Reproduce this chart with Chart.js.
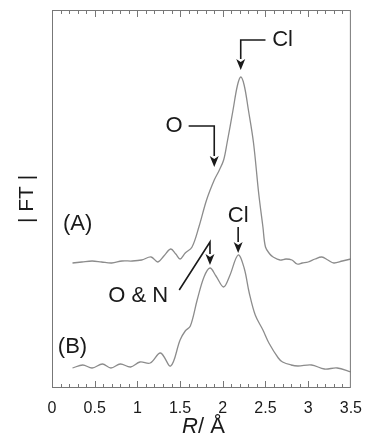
<!DOCTYPE html>
<html>
<head>
<meta charset="utf-8">
<script src="https://cdn.jsdelivr.net/npm/chart.js@4/dist/chart.umd.min.js"></script>
<style>
  body { margin: 0; background: #fff; }
  canvas { display: block; }
</style>
</head>
<body>
<canvas id="ft" width="373" height="447"></canvas>
<script>
// curve (A)
const rA  = [0.24,0.35,0.47,0.58,0.70,0.82,0.94,1.05,1.16,1.24,1.31,1.39,1.45,1.50,1.56,1.64,1.72,1.81,1.90,1.96,2.01,2.05,2.12,2.17,2.21,2.25,2.30,2.36,2.42,2.47,2.50,2.55,2.59,2.67,2.74,2.81,2.87,2.93,3.00,3.08,3.16,3.23,3.30,3.40,3.50];
const ftA = [125,126,127,126,125,127,127,128,131,126,132,139,134,129,135,141,161,188,208,218,228,245,278,302,311,303,278,245,195,161,141,134,131,128,129,128,124,125,126,129,131,128,125,127,129];

// curve (B)
const rB  = [0.24,0.36,0.47,0.59,0.69,0.80,0.92,1.03,1.15,1.27,1.39,1.50,1.56,1.62,1.70,1.78,1.85,1.92,2.01,2.08,2.18,2.25,2.31,2.38,2.47,2.54,2.65,2.70,2.80,2.88,3.04,3.19,3.34,3.50];
const ftB = [20,23,20,24,20,24,21,26,25,35,22,48,57,62,88,111,120,112,101,112,133,120,95,73,58,45,30,26,23,22,23,19,20,16];

const xTicks = [0,0.5,1,1.5,2,2.5,3,3.5];

// labels, in data units
const notes = [
    {text:"(A)", x:0.30, y:164},
    {text:"(B)", x:0.24, y:41},
    {text:"Cl", x:2.70, y:348},
    {text:"O", x:1.43, y:262},
    {text:"Cl", x:2.18, y:172},
    {text:"O & N", x:1.01, y:92}
];
// arrows: polyline, last point is the tip
const arrows = [
    [[2.50,348],[2.21,348],[2.21,318]],
    [[1.60,262],[1.90,262],[1.90,221]],
    [[2.18,161],[2.18,135]],
    [[1.49,98],[1.85,146],[1.85,123]]
];

const pts = (xs, ys) => xs.map((x, i) => ({x: x, y: ys[i]}));

const extras = {
    id: "extras",
    afterDatasetsDraw(chart) {
        const ctx = chart.ctx;
        const a = chart.chartArea;
        const xs = chart.scales.x, ys = chart.scales.y;
        ctx.save();
        // frame
        ctx.strokeStyle = "#777";
        ctx.lineWidth = 1;
        ctx.strokeRect(a.left + 0.5, a.top + 0.5, a.right - a.left - 1, a.bottom - a.top - 1);
        // inward ticks top and bottom
        for (let i = 1; i < 35; i++) {
            const v = i / 10;
            const px = Math.round(xs.getPixelForValue(v)) + 0.5;
            const len = (i % 5 === 0) ? 7 : 4;
            ctx.beginPath();
            ctx.moveTo(px, a.bottom); ctx.lineTo(px, a.bottom - len);
            ctx.moveTo(px, a.top); ctx.lineTo(px, a.top + len);
            ctx.stroke();
        }
        // arrows
        ctx.strokeStyle = "#1a1a1a";
        ctx.fillStyle = "#1a1a1a";
        ctx.lineWidth = 1.6;
        arrows.forEach(p => {
            const q = p.map(d => [xs.getPixelForValue(d[0]), ys.getPixelForValue(d[1])]);
            const tip = q[q.length - 1], prev = q[q.length - 2];
            const ang = Math.atan2(tip[1] - prev[1], tip[0] - prev[0]);
            const L = 11, W = 4.5;
            const bx = tip[0] - L * Math.cos(ang), by = tip[1] - L * Math.sin(ang);
            ctx.beginPath();
            ctx.moveTo(q[0][0], q[0][1]);
            for (let i = 1; i < q.length - 1; i++) ctx.lineTo(q[i][0], q[i][1]);
            ctx.lineTo(bx, by);
            ctx.stroke();
            ctx.beginPath();
            ctx.moveTo(tip[0], tip[1]);
            ctx.lineTo(bx + W * Math.sin(ang), by - W * Math.cos(ang));
            ctx.lineTo(bx + 3 * Math.cos(ang), by + 3 * Math.sin(ang));
            ctx.lineTo(bx - W * Math.sin(ang), by + W * Math.cos(ang));
            ctx.closePath();
            ctx.fill();
        });
        // labels
        ctx.font = "22px 'Liberation Sans', Arial, sans-serif";
        ctx.textAlign = "center";
        ctx.textBaseline = "middle";
        notes.forEach(n => {
            ctx.fillText(n.text, xs.getPixelForValue(n.x), ys.getPixelForValue(n.y));
        });
        // x title: R/ Å
        const cx = (a.left + a.right) / 2 + 2, cy = 427;
        ctx.textAlign = "left";
        ctx.font = "italic 22px 'Liberation Sans', Arial, sans-serif";
        const w1 = ctx.measureText("R").width;
        ctx.font = "22px 'Liberation Sans', Arial, sans-serif";
        const w2 = ctx.measureText("/ Å").width;
        const x0 = cx - (w1 + w2) / 2;
        ctx.font = "italic 22px 'Liberation Sans', Arial, sans-serif";
        ctx.fillText("R", x0, cy);
        ctx.font = "22px 'Liberation Sans', Arial, sans-serif";
        ctx.fillText("/ Å", x0 + w1, cy);
        ctx.restore();
    }
};

new Chart(document.getElementById("ft"), {
    type: "line",
    data: {
        datasets: [
            {label: "A", data: pts(rA, ftA), borderColor: "#8c8c8c", borderWidth: 1.3, pointRadius: 0, tension: 0.35, fill: false},
            {label: "B", data: pts(rB, ftB), borderColor: "#8c8c8c", borderWidth: 1.3, pointRadius: 0, tension: 0.35, fill: false}
        ]
    },
    options: {
        responsive: false,
        animation: false,
        events: [],
        layout: {padding: {top: 10, right: 16, bottom: 0, left: 0}},
        plugins: {legend: {display: false}, tooltip: {enabled: false}},
        scales: {
            x: {
                type: "linear",
                min: 0, max: 3.5,
                afterBuildTicks: s => { s.ticks = xTicks.map(v => ({value: v})); },
                grid: {display: false, drawTicks: false},
                border: {display: false},
                ticks: {
                    padding: 11,
                    color: "#1a1a1a",
                    maxRotation: 0,
                    autoSkip: false,
                    callback: v => String(v),
                    font: {family: "'Liberation Sans', Arial, sans-serif", size: 16}
                },
                afterFit: s => { s.height = 59; }
            },
            y: {
                min: 0, max: 378,
                grid: {display: false, drawTicks: false},
                border: {display: false},
                ticks: {display: false},
                title: {
                    display: true,
                    text: "| FT |",
                    color: "#1a1a1a",
                    padding: {top: 15, bottom: 0},
                    font: {family: "'Liberation Sans', Arial, sans-serif", size: 21}
                },
                afterFit: s => { s.width = 52; }
            }
        }
    },
    plugins: [extras]
});
</script>
</body>
</html>
